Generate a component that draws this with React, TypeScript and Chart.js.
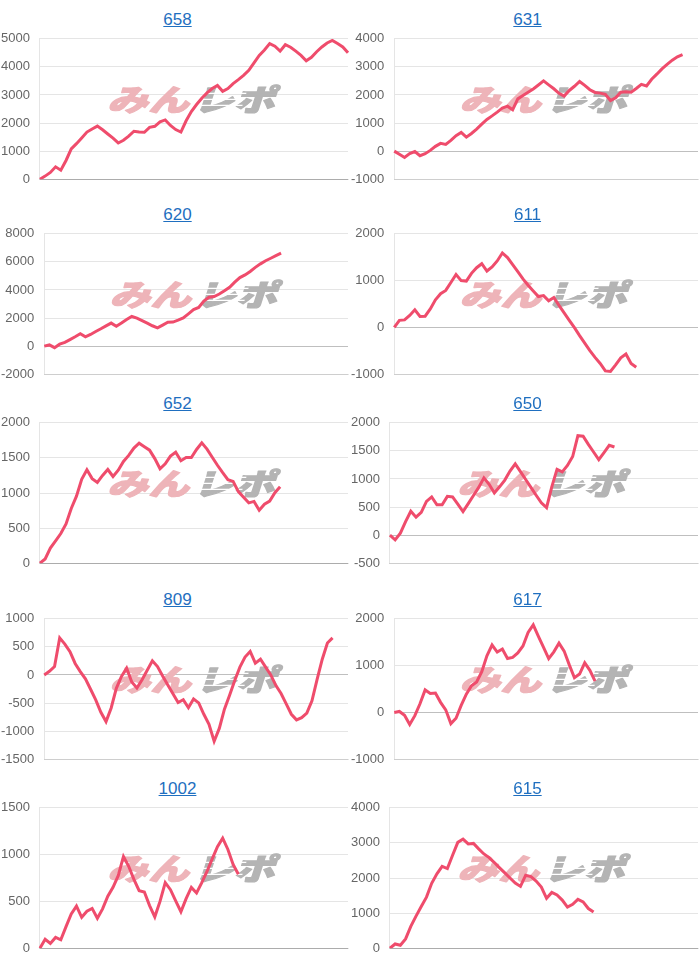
import React, { useEffect, useRef } from "react";
import { Chart, registerables } from "chart.js";

Chart.register(...registerables);

// ---------------- data ----------------
const AXIS_POINTS = 60;
const xLabels = Array.from({ length: AXIS_POINTS }, (_, i) => String(i + 1));

const titles = ["658", "631", "620", "611", "652", "650", "809", "617", "1002", "615"];

const s658 = [0, 110, 240, 440, 320, 667, 1077, 1265, 1468, 1678, 1790, 1890, 1760, 1611, 1460, 1290, 1387, 1532, 1707, 1678, 1672, 1845, 1883, 2044, 2110, 1914, 1767, 1680, 2080, 2408, 2660, 2884, 3075, 3230, 3340, 3130, 3230, 3406, 3548, 3700, 3876, 4140, 4410, 4600, 4830, 4735, 4560, 4790, 4700, 4560, 4410, 4220, 4340, 4540, 4710, 4850, 4940, 4830, 4710, 4500];
const s631 = [0, -115, -225, -90, -14, -165, -94, 26, 170, 276, 240, 385, 552, 665, 498, 628, 785, 963, 1130, 1255, 1390, 1535, 1600, 1470, 1860, 1980, 2100, 2215, 2355, 2500, 2360, 2220, 2060, 1960, 2160, 2310, 2480, 2340, 2185, 2090, 2065, 2020, 1800, 1900, 2100, 2110, 2100, 2230, 2375, 2320, 2560, 2740, 2930, 3090, 3240, 3360, 3440];
const s620 = [0, 85, -110, 140, 270, 465, 665, 880, 660, 830, 1040, 1235, 1445, 1640, 1420, 1645, 1900, 2110, 1994, 1818, 1638, 1450, 1300, 1500, 1700, 1715, 1845, 2010, 2300, 2600, 2750, 3210, 3480, 3530, 3710, 3940, 4190, 4560, 4880, 5070, 5320, 5610, 5860, 6080, 6260, 6440, 6620];
const s611 = [0, 150, 160, 255, 375, 235, 240, 395, 590, 720, 790, 960, 1130, 1000, 990, 1155, 1275, 1360, 1205, 1290, 1420, 1590, 1491, 1340, 1190, 1035, 900, 780, 660, 680, 570, 640, 470, 310, 150, -5, -175, -335, -495, -640, -770, -930, -940, -800, -650, -570, -770, -850];
const s652 = [0, 60, 215, 318, 422, 560, 780, 955, 1195, 1330, 1205, 1150, 1250, 1335, 1235, 1325, 1450, 1535, 1640, 1710, 1660, 1610, 1490, 1345, 1415, 1525, 1580, 1460, 1505, 1505, 1620, 1715, 1625, 1510, 1395, 1290, 1190, 1165, 1020, 940, 860, 880, 755, 840, 885, 1005, 1090];
const s650 = [0, -85, 35, 240, 425, 320, 405, 600, 680, 540, 540, 690, 680, 550, 420, 560, 705, 850, 1020, 905, 750, 860, 980, 1140, 1270, 1130, 990, 850, 710, 575, 490, 858, 1172, 1125, 1240, 1400, 1770, 1760, 1615, 1480, 1345, 1470, 1600, 1570];
const s809 = [0, 65, 150, 660, 550, 415, 205, 60, -70, -255, -445, -665, -830, -588, -238, -25, 120, -127, -232, -85, 84, 252, 149, -20, -180, -335, -490, -442, -584, -428, -498, -700, -880, -1180, -952, -610, -360, -100, 140, 320, 420, 210, 280, 140, 0, -190, -330, -515, -700, -800, -760, -680, -460, -80, 280, 570, 660];
const s617 = [0, 20, -60, -260, -70, 185, 480, 405, 415, 215, 55, -240, -125, 150, 390, 570, 650, 870, 1210, 1440, 1290, 1355, 1150, 1175, 1270, 1420, 1710, 1870, 1625, 1390, 1150, 1295, 1480, 1310, 1015, 740, 820, 1060, 900, 670];
const s1002 = [0, 95, 50, 115, 90, 230, 365, 450, 330, 395, 425, 320, 420, 555, 650, 775, 980, 875, 735, 615, 600, 455, 335, 500, 700, 625, 505, 390, 530, 650, 590, 700, 820, 955, 1085, 1175, 1055, 895, 790];
const s615 = [0, 120, 85, 265, 620, 915, 1190, 1455, 1850, 2120, 2330, 2270, 2650, 3015, 3110, 2970, 2985, 2830, 2685, 2580, 2440, 2290, 2145, 2000, 1855, 1760, 2080, 2040, 1915, 1740, 1420, 1590, 1515, 1370, 1170, 1250, 1390, 1320, 1130, 1030];

const seriesList = [s658, s631, s620, s611, s652, s650, s809, s617, s1002, s615];

const yMins = [0, -1000, -2000, -1000, 0, -500, -1500, -1000, 0, 0];
const yMaxs = [5000, 4000, 8000, 2000, 2000, 2000, 1000, 2000, 1500, 4000];
const ySteps = [1000, 1000, 2000, 1000, 500, 500, 500, 1000, 500, 1000];

const watermarkParts = ["みん", "レポ"];

// ---------------- layout / style ----------------
const ROW_TOPS = [0, 195, 384, 580, 769];
const COL_W = 350;
const CANVAS_LEFT_SHIFT = -10;
const CANVAS_W = 360;
const PLOT_TOP = 39;
const PLOT_H = 140;
const LINE_COLOR = "rgb(239, 76, 108)";
const TITLE_COLOR = "#1f6fc0";

const watermarkPlugin = {
  id: "watermark",
  beforeDatasetsDraw(chart: any) {
    const { ctx, chartArea } = chart;
    const { left, right, top } = chartArea;
    const cx = (left + right) / 2 + 1;
    const cy = top + 60;
    ctx.save();
    ctx.font = "900 30px 'Noto Sans CJK JP'";
    ctx.textBaseline = "middle";
    ctx.textAlign = "left";
    const w1 = ctx.measureText(watermarkParts[0]).width;
    const w2 = ctx.measureText(watermarkParts[1]).width;
    const gap = 3;
    const total = w1 + gap + w2;
    ctx.translate(cx, cy);
    ctx.transform(1, 0, -0.32, 1, 0, 0);
    ctx.scale(1.36, 1);
    ctx.lineJoin = "round";
    ctx.lineWidth = 1.2;
    ctx.fillStyle = "rgb(238, 180, 185)";
    ctx.strokeStyle = "rgb(238, 180, 185)";
    ctx.fillText(watermarkParts[0], -total / 2, 1);
    ctx.strokeText(watermarkParts[0], -total / 2, 1);
    const gx = -total / 2 + w1 + gap;
    ctx.fillStyle = "rgb(180, 180, 180)";
    ctx.strokeStyle = "rgb(180, 180, 180)";
    ctx.fillText(watermarkParts[1], gx, 1);
    ctx.strokeText(watermarkParts[1], gx, 1);
    // speed-line stripes across the grey part
    ctx.fillStyle = "#ffffff";
    for (const dy of [-6, 0, 6]) {
      ctx.fillRect(gx + 2, dy, w2 * 0.55, 1.2);
    }
    ctx.restore();
  },
};

function makeConfig(index: number): any {
  return {
    type: "line",
    data: {
      labels: xLabels,
      datasets: [
        {
          data: seriesList[index],
          borderColor: LINE_COLOR,
          backgroundColor: LINE_COLOR,
          borderWidth: 3,
          pointRadius: 0,
          pointHoverRadius: 0,
          tension: 0,
          fill: false,
        },
      ],
    },
    options: {
      animation: false,
      responsive: false,
      maintainAspectRatio: false,
      events: [],
      layout: { padding: { left: 1, right: 2, top: 0, bottom: 0 } },
      plugins: {
        legend: { display: false },
        tooltip: { enabled: false },
        title: { display: false },
      },
      scales: {
        x: {
          display: true,
          ticks: { display: false },
          grid: { display: false, drawTicks: false },
          border: { display: true, color: "rgba(0,0,0,0.1)" },
        },
        y: {
          min: yMins[index],
          max: yMaxs[index],
          ticks: {
            stepSize: ySteps[index],
            color: "#666",
            font: { size: 13 },
            padding: 10,
            callback: (v: any) => String(v),
          },
          grid: {
            drawTicks: false,
            color: (c: any) =>
              c.tick && c.tick.value === 0 ? "rgba(0,0,0,0.25)" : "rgba(0,0,0,0.1)",
          },
          border: { display: true, color: "rgba(0,0,0,0.1)" },
        },
      },
    },
    plugins: [watermarkPlugin],
  };
}

function Panel({ index }: { index: number }) {
  const ref = useRef<HTMLCanvasElement | null>(null);
  const col = index % 2;
  const row = Math.floor(index / 2);
  const top = ROW_TOPS[row];

  useEffect(() => {
    const canvas = ref.current;
    if (!canvas) return;
    const H0 = 240;
    canvas.width = CANVAS_W;
    canvas.height = H0;
    canvas.style.width = CANVAS_W + "px";
    canvas.style.height = H0 + "px";
    let chart = new Chart(canvas, makeConfig(index));
    const ca = chart.chartArea;
    const padTop = ca.top;
    const padBottom = H0 - ca.bottom;
    chart.destroy();
    const h = Math.round(padTop + PLOT_H + padBottom);
    canvas.width = CANVAS_W;
    canvas.height = h;
    canvas.style.width = CANVAS_W + "px";
    canvas.style.height = h + "px";
    canvas.style.top = Math.round(top + PLOT_TOP - padTop) + "px";
    chart = new Chart(canvas, makeConfig(index));
    return () => chart.destroy();
  }, [index]);

  return (
    <>
      <div
        style={{
          position: "absolute",
          left: col * COL_W,
          top: top + 10,
          width: 355,
          height: 20,
          lineHeight: "20px",
          textAlign: "center",
          fontFamily: "Arial, 'Liberation Sans', sans-serif",
          fontSize: 17,
          color: TITLE_COLOR,
        }}
      >
        <span style={{ textDecoration: "underline" }}>{titles[index]}</span>
      </div>
      <canvas
        ref={ref}
        width={CANVAS_W}
        height={160}
        style={{
          position: "absolute",
          left: col * COL_W + CANVAS_LEFT_SHIFT,
          top: top + 30,
          width: CANVAS_W,
          height: 160,
        }}
      />
    </>
  );
}

export default function App() {
  return (
    <div
      style={{
        position: "absolute",
        left: 0,
        top: 0,
        width: 700,
        height: 964,
        background: "#fff",
        overflow: "hidden",
      }}
    >
      {titles.map((_, i) => (
        <Panel key={i} index={i} />
      ))}
    </div>
  );
}
